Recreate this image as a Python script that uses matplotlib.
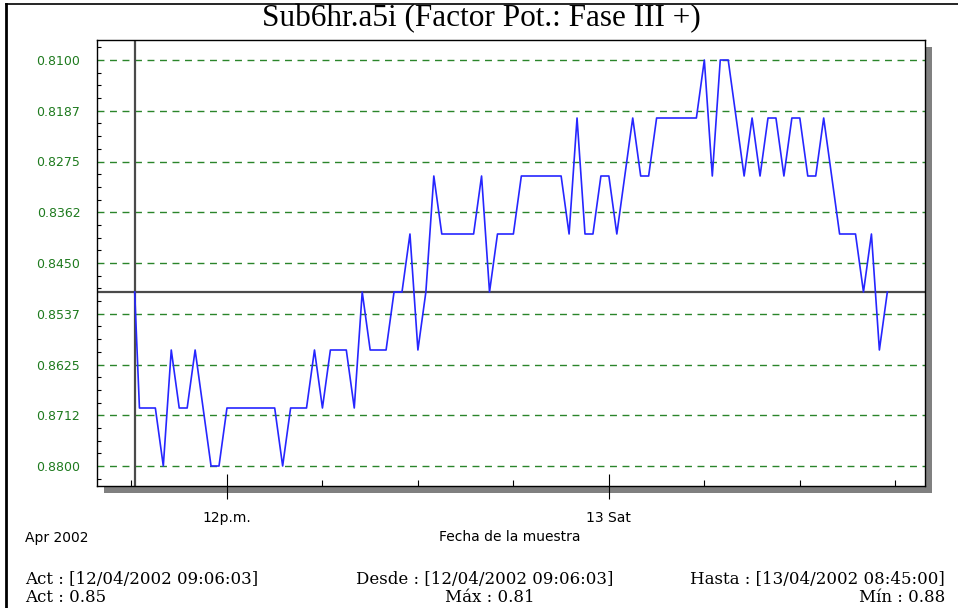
import numpy as np
import pandas as pd
import matplotlib
matplotlib.use('Agg')
import matplotlib.pyplot as plt
from matplotlib.ticker import FixedLocator, AutoMinorLocator
from matplotlib.patches import Rectangle
from matplotlib.lines import Line2D
import matplotlib.dates as mdates

# data (15 minute samples, first one is the "Act" reading)
first_time = pd.Timestamp('2002-04-12 09:06:03')
sample_times = pd.date_range('2002-04-12 09:15', '2002-04-13 08:45', freq='15min')
times = [first_time] + list(sample_times)

values = [0.85, 0.87, 0.87, 0.87,   # 09h
          0.88, 0.86, 0.87, 0.87,   # 10h
          0.86, 0.87, 0.88, 0.88,   # 11h
          0.87, 0.87, 0.87, 0.87,   # 12h
          0.87, 0.87, 0.87, 0.88,   # 13h
          0.87, 0.87, 0.87, 0.86,   # 14h
          0.87, 0.86, 0.86, 0.86,   # 15h
          0.87, 0.85, 0.86, 0.86,   # 16h
          0.86, 0.85, 0.85, 0.84,   # 17h
          0.86, 0.85, 0.83, 0.84,   # 18h
          0.84, 0.84, 0.84, 0.84,   # 19h
          0.83, 0.85, 0.84, 0.84,   # 20h
          0.84, 0.83, 0.83, 0.83,   # 21h
          0.83, 0.83, 0.83, 0.84,   # 22h
          0.82, 0.84, 0.84, 0.83,   # 23h
          0.83, 0.84, 0.83, 0.82,   # 00h
          0.83, 0.83, 0.82, 0.82,   # 01h
          0.82, 0.82, 0.82, 0.82,   # 02h
          0.81, 0.83, 0.81, 0.81,   # 03h
          0.82, 0.83, 0.82, 0.83,   # 04h
          0.82, 0.82, 0.83, 0.82,   # 05h
          0.82, 0.83, 0.83, 0.82,   # 06h
          0.83, 0.84, 0.84, 0.84,   # 07h
          0.85, 0.84, 0.86, 0.85]   # 08h

cursor_value = 0.85

ytick_vals = np.linspace(0.81, 0.88, 9)
ytick_labels = ['0.8100', '0.8187', '0.8275', '0.8362', '0.8450',
                '0.8537', '0.8625', '0.8712', '0.8800']

xtick_times = [pd.Timestamp('2002-04-12 12:00'), pd.Timestamp('2002-04-13 00:00')]
xtick_labels = ['12p.m.', '13 Sat']

title = 'Sub6hr.a5i (Factor Pot.: Fase III +)'
footer_left = ['Act : [12/04/2002 09:06:03]', 'Act : 0.85']
footer_mid = ['Desde : [12/04/2002 09:06:03]', 'Máx : 0.81']
footer_right = ['Hasta : [13/04/2002 08:45:00]', 'Mín : 0.88']

W, H = 958, 608
fig = plt.figure(figsize=(W / 100, H / 100), dpi=100)
fig.patch.set_facecolor('white')

# plot box in pixels
L, R, T, B = 97, 925, 40, 486
ax = fig.add_axes([L / W, 1 - B / H, (R - L) / W, (B - T) / H], zorder=2)
ax.set_facecolor('white')

# drop shadow
sh = 7
fig.patches.append(Rectangle(((L + sh) / W, 1 - (B + sh) / H), (R - L) / W, (B - T) / H,
                             transform=fig.transFigure, facecolor='#808080',
                             edgecolor='none', zorder=1))

# frame lines of the window
fig.add_artist(Line2D([6 / W, 6 / W], [0, 1 - 4 / H], color='black', lw=2))
fig.add_artist(Line2D([6 / W, 1], [1 - 4 / H, 1 - 4 / H], color='black', lw=1.2))

ax.plot(times, values, color='#2626ff', lw=1.2, zorder=3)

# cursor
ax.axvline(first_time, color='#4a4a4a', lw=1.6, zorder=2)
ax.axhline(cursor_value, color='#4a4a4a', lw=1.6, zorder=2)

ax.set_xlim(pd.Timestamp('2002-04-12 07:55'), pd.Timestamp('2002-04-13 09:56'))
ax.set_ylim(0.88 + 20 / 5800, 0.81 - 20 / 5800)

ax.yaxis.set_major_locator(FixedLocator(ytick_vals))
ax.set_yticklabels(ytick_labels)
ax.yaxis.set_minor_locator(AutoMinorLocator(4))
for v in ytick_vals:
    ax.axhline(v, color='#2a852a', lw=1, ls=(0, (5, 4)), zorder=1)

ax.xaxis.set_major_locator(FixedLocator(mdates.date2num(xtick_times)))
ax.set_xticklabels(xtick_labels)
ax.xaxis.set_minor_locator(mdates.HourLocator(byhour=range(0, 24, 3)))

ax.tick_params(axis='y', which='major', length=0, pad=12, labelsize=9,
               labelcolor='#1e7a1e')
ax.tick_params(axis='y', which='minor', direction='in', length=3, width=0.8)
ax.tick_params(axis='x', which='major', direction='inout', length=18, width=0.8,
               pad=9, labelsize=10)
ax.tick_params(axis='x', which='minor', direction='in', length=4, width=0.8)
for s in ax.spines.values():
    s.set_linewidth(1)
    s.set_color('black')

fig.text(0.503, 1 - 19 / H, title, ha='center', va='center',
         fontfamily='Liberation Serif', fontsize=22.5)

fig.text(25 / W, 1 - 538 / H, 'Apr 2002', ha='left', va='center', fontsize=10)
fig.text(510 / W, 1 - 537 / H, 'Fecha de la muestra', ha='center', va='center', fontsize=10)

ff = dict(fontfamily='DejaVu Serif', fontsize=12)
fig.text(25 / W, 1 - 580 / H, footer_left[0], ha='left', va='center', **ff)
fig.text(25 / W, 1 - 598 / H, footer_left[1], ha='left', va='center', **ff)
fig.text(485 / W, 1 - 580 / H, footer_mid[0], ha='center', va='center', **ff)
fig.text(490 / W, 1 - 598 / H, footer_mid[1], ha='center', va='center', **ff)
fig.text(945 / W, 1 - 580 / H, footer_right[0], ha='right', va='center', **ff)
fig.text(945 / W, 1 - 598 / H, footer_right[1], ha='right', va='center', **ff)

fig.savefig('out.png', dpi=100)
